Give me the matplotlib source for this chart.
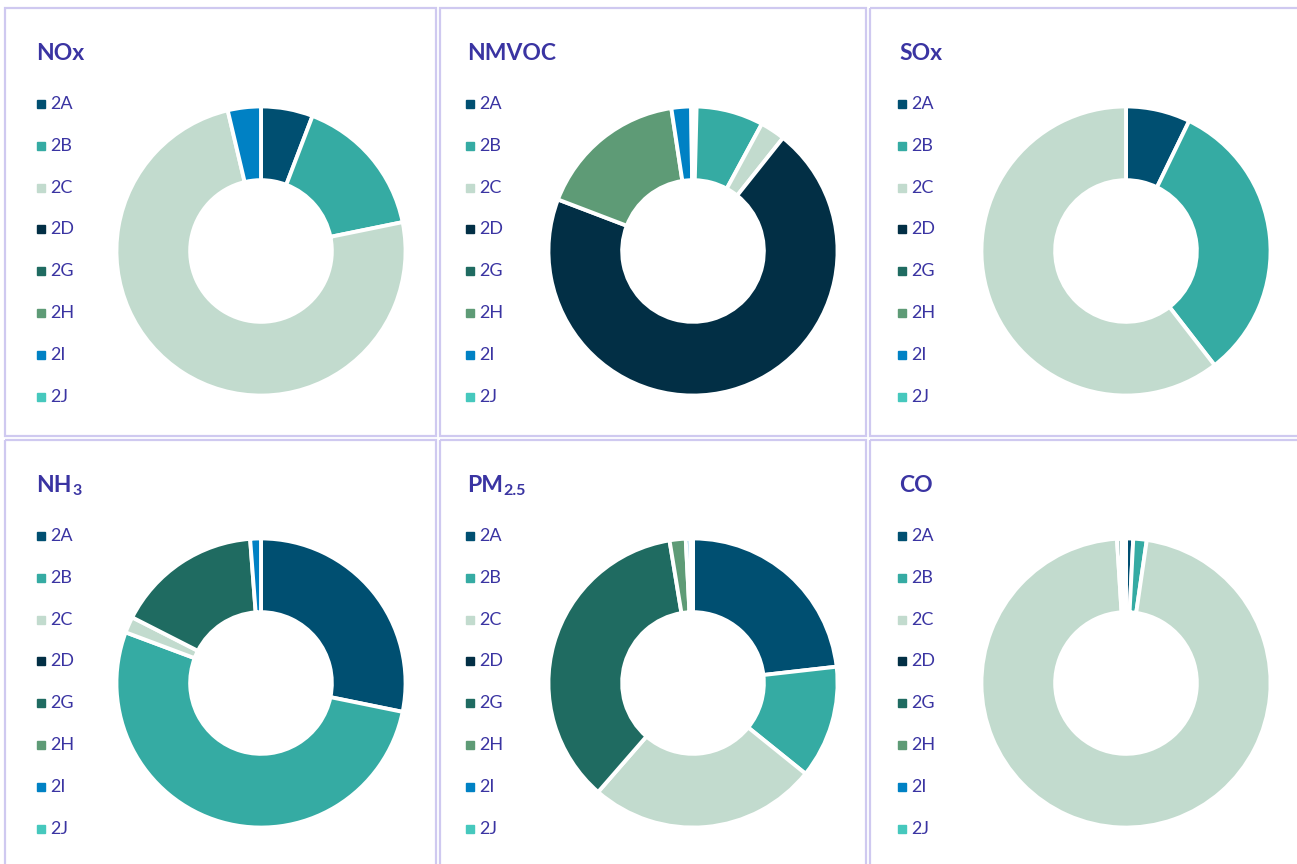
import matplotlib
matplotlib.use("Agg")
import matplotlib.pyplot as plt
from matplotlib.patches import Rectangle

plt.rcParams['font.family'] = ['Lato', 'DejaVu Sans']

# source categories (legend order)
categories = ['2A', '2B', '2C', '2D', '2G', '2H', '2I', '2J']
colors = ['#004f71', '#35aba3', '#c2dbce', '#022f45',
          '#1f6b61', '#5e9b76', '#0081c4', '#46c8bd']

# share of each pollutant by category (%)
titles = ['NOx', 'NMVOC', 'SOx', 'NH', 'PM', 'CO']
subscripts = ['', '', '', '3', '2.5', '']
nox = [5.8, 16.0, 74.5, 0, 0, 0, 3.7, 0]
nmvoc = [0.4, 7.5, 2.8, 70.1, 0, 16.8, 2.2, 0.2]
sox = [7.2, 32.3, 60.5, 0, 0, 0, 0, 0]
nh3 = [28.2, 52.5, 1.8, 0, 16.3, 0, 1.2, 0]
pm25 = [23.2, 12.6, 25.6, 0, 36.0, 1.8, 0.5, 0.3]
co = [0.8, 1.5, 96.7, 0, 0.5, 0, 0.3, 0.2]
series = [nox, nmvoc, sox, nh3, pm25, co]

W, H = 1297, 864
fig = plt.figure(figsize=(W / 100, H / 100), dpi=100)
text_col = '#3a34a2'
border = '#cfc9f0'

# background axes in pixel coords (y down) for borders, titles and legends
bg = fig.add_axes([0, 0, 1, 1])
bg.set_xlim(0, W)
bg.set_ylim(H, 0)
bg.axis('off')

col_x = [5, 440, 870]
col_w = [431, 426, 430]
row_y = [8, 440]
row_h = [428, 430]
cx_off = [256, 253, 256]
title_x = [36, 467, 899]
leg_x = [41, 470, 902]

for i, (title, sub, vals) in enumerate(zip(titles, subscripts, series)):
    r, c = divmod(i, 3)
    x0, y0 = col_x[c], row_y[r]
    bg.add_patch(Rectangle((x0, y0), col_w[c], row_h[r], fill=False,
                           edgecolor=border, lw=1.6))
    t = bg.text(title_x[c], y0 + 52, title, fontsize=16.5, fontweight='bold',
                color=text_col, va='baseline', ha='left')
    if sub:
        bg.annotate(sub, xy=(1, 0), xycoords=t, xytext=(0.5, 0.5),
                    textcoords='offset points', fontsize=11.5,
                    fontweight='bold', color=text_col, va='baseline')
    # legend
    for k, (cat, col) in enumerate(zip(categories, colors)):
        yy = y0 + 96 + k * 41.8
        bg.add_patch(Rectangle((leg_x[c] - 4, yy - 4), 8, 8, color=col))
        bg.text(leg_x[c] + 9, yy, cat, fontsize=13, color=text_col,
                va='center', ha='left')
    # donut
    R = 146
    cx, cy = x0 + cx_off[c], y0 + 243
    ax = fig.add_axes([(cx - R) / W, 1 - (cy + R) / H, 2 * R / W, 2 * R / H])
    v = [a for a in vals if a > 0]
    cl = [col for a, col in zip(vals, colors) if a > 0]
    ax.pie(v, colors=cl, startangle=90, counterclock=False, radius=1,
           wedgeprops=dict(width=0.51, edgecolor='white', linewidth=2.8))
    ax.set_xlim(-1.01, 1.01)
    ax.set_ylim(-1.01, 1.01)
    ax.set_aspect('equal')
    ax.axis('off')

fig.savefig('out.png', dpi=100)
